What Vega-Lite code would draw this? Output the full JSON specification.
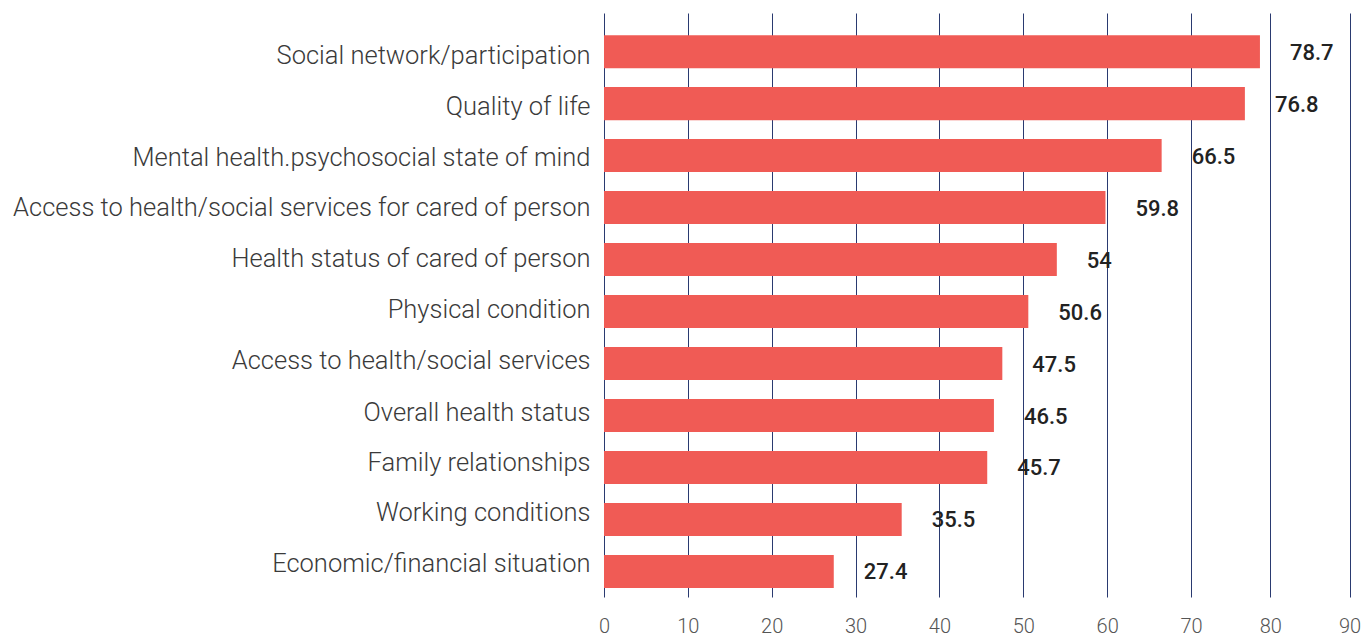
{
  "$schema": "https://vega.github.io/schema/vega-lite/v6.json",
  "autosize": "none",
  "padding": {"left": 604, "top": 13, "right": 15, "bottom": 39},
  "width": 746,
  "height": 584,
  "background": "white",
  "config": {"view": {"stroke": null}},
  "data": {"values": [
    {"category": "Social network/participation", "value": 78.7},
    {"category": "Quality of life", "value": 76.8},
    {"category": "Mental health.psychosocial state of mind", "value": 66.5},
    {"category": "Access to health/social services for cared of person", "value": 59.8},
    {"category": "Health status of cared of person", "value": 54},
    {"category": "Physical condition", "value": 50.6},
    {"category": "Access to health/social services", "value": 47.5},
    {"category": "Overall health status", "value": 46.5},
    {"category": "Family relationships", "value": 45.7},
    {"category": "Working conditions", "value": 35.5},
    {"category": "Economic/financial situation", "value": 27.4}
  ]},
  "encoding": {
    "y": {
      "field": "category", "type": "nominal", "sort": null, "title": null,
      "scale": {"paddingInner": 0.365, "paddingOuter": 0.3, "align": 0.71},
      "axis": {"domain": false, "ticks": false, "labelPadding": 14, "labelFont": "Roboto", "labelFontWeight": 300, "labelFontSize": 25.5, "labelColor": "#3a3a3a", "labelLimit": 700,
        "labelOffset": {"condition": [
          {"test": "datum.value === 'Social network/participation'", "value": 4},
          {"test": "datum.value === 'Quality of life'", "value": 3},
          {"test": "datum.value === 'Mental health.psychosocial state of mind'", "value": 2},
          {"test": "datum.value === 'Access to health/social services for cared of person'", "value": 0.5},
          {"test": "datum.value === 'Health status of cared of person'", "value": -0.5},
          {"test": "datum.value === 'Physical condition'", "value": -1.5},
          {"test": "datum.value === 'Access to health/social services'", "value": -2.5},
          {"test": "datum.value === 'Overall health status'", "value": -3},
          {"test": "datum.value === 'Family relationships'", "value": -4.5},
          {"test": "datum.value === 'Working conditions'", "value": -6}
        ], "value": -7}}
    },
    "x": {
      "field": "value", "type": "quantitative", "title": null,
      "scale": {"domain": [0, 70, 90], "range": [0, 587, 745.5], "nice": false},
      "axis": {"values": [0,10,20,30,40,50,60,70,80,90], "domain": false, "ticks": false, "grid": true, "gridColor": "#2a3a70", "gridWidth": 1, "gridOpacity": 1, "labelFont": "Roboto", "labelFontWeight": 300, "labelFontSize": 20, "labelColor": "#555", "labelPadding": 19, "labelFlush": false}
    }
  },
  "layer": [
    {"mark": {"type": "bar", "color": "#F05B55"}},
    {"mark": {"type": "text", "align": "left", "baseline": "middle", "dx": 30, "dy": 1, "font": "Roboto", "fontWeight": 500, "fontSize": 22, "color": "#222"},
     "encoding": {"text": {"field": "value", "type": "quantitative"}}}
  ]
}
